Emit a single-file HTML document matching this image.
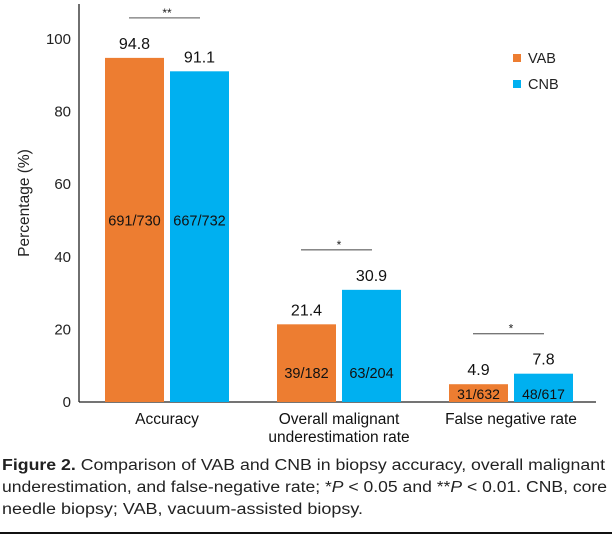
<!DOCTYPE html>
<html><head><meta charset="utf-8"><style>
html,body{margin:0;padding:0;background:#fff;}
svg{display:block;font-family:"Liberation Sans",Arial,sans-serif;}
</style></head><body>
<svg id="chart" width="612" height="535" viewBox="0 0 612 535" xmlns="http://www.w3.org/2000/svg">
<g id="plot"></g>
<g font-size="15.5" fill="#222">
<text x="2" y="470" textLength="603" lengthAdjust="spacingAndGlyphs"><tspan font-weight="bold">Figure 2.</tspan> Comparison of VAB and CNB in biopsy accuracy, overall malignant</text>
<text x="2" y="492" textLength="605" lengthAdjust="spacingAndGlyphs">underestimation, and false-negative rate; *<tspan font-style="italic">P</tspan> &lt; 0.05 and **<tspan font-style="italic">P</tspan> &lt; 0.01. CNB, core</text>
<text x="2" y="514" textLength="361" lengthAdjust="spacingAndGlyphs">needle biopsy; VAB, vacuum-assisted biopsy.</text>
</g>
<rect x="0" y="532" width="612" height="2" fill="#111"/>
</svg>
<script>
const categories = ["Accuracy", "Overall malignant|underestimation rate", "False negative rate"];
const vabValues = [94.8, 21.4, 4.9];
const cnbValues = [91.1, 30.9, 7.8];
const vabCounts = ["691/730", "39/182", "31/632"];
const cnbCounts = ["667/732", "63/204", "48/617"];
const sigMarks = ["**", "*", "*"];
const yTicks = [0, 20, 40, 60, 80, 100];

const NS = "http://www.w3.org/2000/svg";
const plot = document.getElementById("plot");
const y0 = 402, yScale = 3.63;
function y(v){ return y0 - v * yScale; }
const groupStart = [105, 277, 449], barW = 59, gap = 6;
function mk(tag, attrs, parent){ const e = document.createElementNS(NS, tag); for (const k in attrs) e.setAttribute(k, attrs[k]); (parent||plot).appendChild(e); return e; }

const ya = mk("line",{x1:79,y1:4,x2:79,y2:y0,stroke:"#222","stroke-width":1.3});


const xa = mk("line",{x1:79,y1:y0,x2:596,y2:y0,stroke:"#222","stroke-width":1.3});


yTicks.forEach(t => {
  const tx = mk("text",{x:71,y:y(t)+5,"text-anchor":"end","font-size":15,fill:"#222"});
  tx.textContent = t;
  
  
});
const yt = mk("text",{x:0,y:0,transform:"translate(29,203) rotate(-90)","text-anchor":"middle","font-size":15.5,fill:"#222"});
yt.textContent = "Percentage (%)";



categories.forEach((c, i) => {
  const xs = groupStart[i];
  [[vabValues[i], vabCounts[i], "#ED7D31", xs, "vab"], [cnbValues[i], cnbCounts[i], "#00B0F0", xs + barW + gap, "cnb"]].forEach(([v, cnt, col, x, s]) => {
    const r = mk("rect",{x:x,y:y(v),width:barW,height:v*yScale,fill:col});
    
    
    const vl = mk("text",{x:x+barW/2,y:y(v)-9,"text-anchor":"middle","font-size":16,fill:"#111"});
    vl.textContent = v.toFixed(1);
    
    
    const cy = v > 40 ? y(50) + 5 : (v > 15 ? y(8) + 5 : y0 - 3);
    const cl = mk("text",{x:x+barW/2,y:cy,"text-anchor":"middle","font-size":v>15?14.5:14,fill:"#111"});
    cl.textContent = cnt;
    
    
  });
  const top = Math.max(vabValues[i], cnbValues[i]);
  const ly = y(top) - 40;
  const sl = mk("line",{x1:xs+24,y1:ly,x2:xs+95,y2:ly,stroke:"#777","stroke-width":1.3});
  
  
  const st = mk("text",{x:xs+62,y:ly-1,"text-anchor":"middle","font-size":12,fill:"#222"});
  st.textContent = sigMarks[i];
  
  
  c.split("|").forEach((ln, j) => {
    const t = mk("text",{x:xs+barW+gap/2,y:424+j*18,"text-anchor":"middle","font-size":15.5,fill:"#111"});
    t.textContent = ln;
    
    
  });
});

[["VAB","#ED7D31",58],["CNB","#00B0F0",84]].forEach(([n,col,ly]) => {
  const g = mk("g",{});
  
  
  mk("rect",{x:513,y:ly-4,width:8,height:8,fill:col},g);
  const t = mk("text",{x:528,y:ly+5,"font-size":14.5,fill:"#222"},g);
  t.textContent = n;
});
</script>
</body></html>
